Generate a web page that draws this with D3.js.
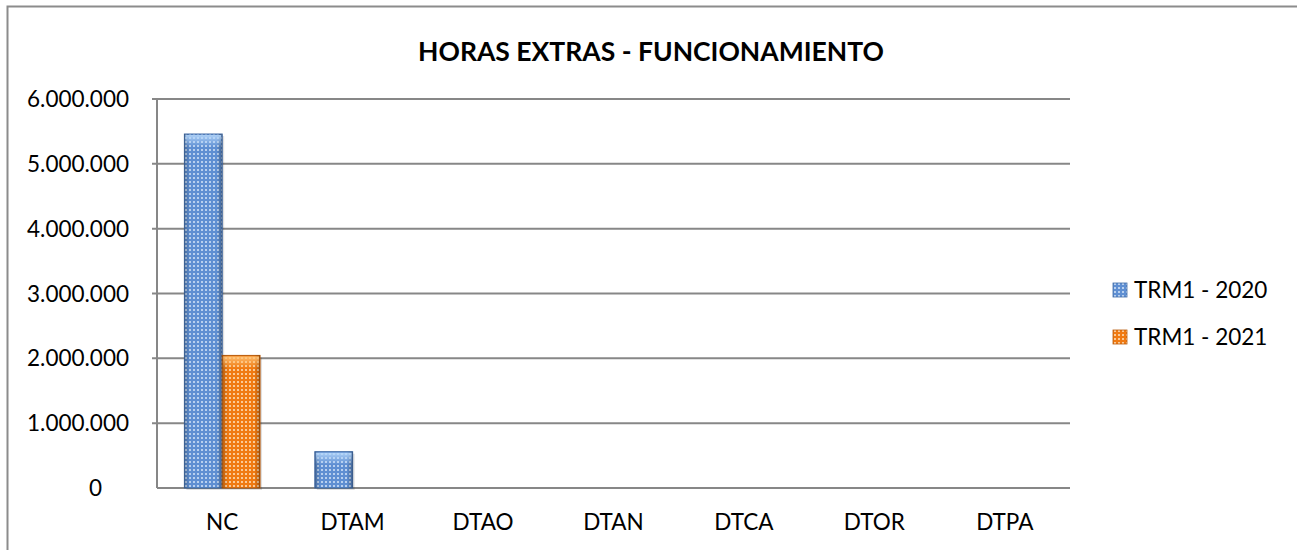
<!DOCTYPE html>
<html>
<head>
<meta charset="utf-8">
<script src="https://cdn.jsdelivr.net/npm/d3@7"></script>
<style>
  body { margin: 0; background: #fff; }
  svg { display: block; font-family: Lato, "Open Sans", sans-serif; }
  .tick-label { font-size: 22.5px; fill: #000; }
  .title { font-size: 26.5px; font-weight: bold; fill: #000; }
</style>
</head>
<body>
<svg id="chart"></svg>
<script>
const categories = ['NC', 'DTAM', 'DTAO', 'DTAN', 'DTCA', 'DTOR', 'DTPA'];
const seriesNames = ['TRM1 - 2020', 'TRM1 - 2021'];
const values2020 = [5460000, 560000, 0, 0, 0, 0, 0];
const values2021 = [2045000, 0, 0, 0, 0, 0, 0];
const yTicks = [0, 1000000, 2000000, 3000000, 4000000, 5000000, 6000000];

const width = 1297;
const height = 550;
const plotLeft = 157;
const plotRight = 1070;
const plotTop = 99;
const plotBottom = 488;

const colors = [
  { base: '#5f8fd2', dot: '#c8dcf5', edge: '#3f6aa6', light: '#b4d6fa' },
  { base: '#f07a12', dot: '#fdd8ae', edge: '#b85a0a', light: '#ffc274' },
];

const svg = d3.select('#chart')
  .attr('width', width)
  .attr('height', height);

const defs = svg.append('defs');

colors.forEach((c, i) => {
  const p = defs.append('pattern')
    .attr('id', `dots${i}`)
    .attr('patternUnits', 'userSpaceOnUse')
    .attr('width', 4)
    .attr('height', 4);
  p.append('rect').attr('width', 4).attr('height', 4).attr('fill', c.base);
  p.append('rect').attr('x', 1).attr('y', 1).attr('width', 2).attr('height', 2)
    .attr('fill', c.dot).attr('opacity', 0.85);

  // cylinder-ish shading across the bar
  const g = defs.append('linearGradient')
    .attr('id', `shade${i}`)
    .attr('x1', 0).attr('x2', 1).attr('y1', 0).attr('y2', 0);
  g.append('stop').attr('offset', '0%').attr('stop-color', '#000').attr('stop-opacity', 0.25);
  g.append('stop').attr('offset', '15%').attr('stop-color', '#000').attr('stop-opacity', 0.0);
  g.append('stop').attr('offset', '85%').attr('stop-color', '#000').attr('stop-opacity', 0.0);
  g.append('stop').attr('offset', '100%').attr('stop-color', '#000').attr('stop-opacity', 0.3);

  const t = defs.append('linearGradient')
    .attr('id', `topglow${i}`)
    .attr('x1', 0).attr('x2', 0).attr('y1', 0).attr('y2', 1);
  t.append('stop').attr('offset', '0%').attr('stop-color', c.light).attr('stop-opacity', 0.9);
  t.append('stop').attr('offset', '100%').attr('stop-color', c.light).attr('stop-opacity', 0);
});

// outer frame
svg.append('rect')
  .attr('x', 7.5).attr('y', 6.5)
  .attr('width', 1300).attr('height', 560)
  .attr('fill', 'none')
  .attr('stroke', '#8c8c8c')
  .attr('stroke-width', 2);

svg.append('text')
  .attr('class', 'title')
  .attr('x', 651)
  .attr('y', 61)
  .attr('text-anchor', 'middle')
  .text('HORAS EXTRAS - FUNCIONAMIENTO');

const x = d3.scaleBand()
  .domain(categories)
  .range([plotLeft, plotRight])
  .paddingInner(0.42)
  .paddingOuter(0.21);

const xSeries = d3.scaleBand()
  .domain(seriesNames)
  .range([0, x.bandwidth()]);

const y = d3.scaleLinear()
  .domain([0, 6000000])
  .range([plotBottom, plotTop]);

const fmt = d => d3.format(',')(d).replace(/,/g, '.');

// gridlines
svg.append('g')
  .selectAll('line')
  .data(yTicks)
  .enter().append('line')
  .attr('x1', d => d === 0 ? plotLeft : plotLeft - 5)
  .attr('x2', plotRight)
  .attr('y1', d => y(d))
  .attr('y2', d => y(d))
  .attr('stroke', '#878787')
  .attr('stroke-width', 2);

// left axis line
svg.append('line')
  .attr('x1', plotLeft).attr('x2', plotLeft)
  .attr('y1', plotTop).attr('y2', plotBottom)
  .attr('stroke', '#878787')
  .attr('stroke-width', 2);

svg.append('g')
  .selectAll('text')
  .data(yTicks)
  .enter().append('text')
  .attr('class', 'tick-label')
  .attr('x', d => d === 0 ? 102 : 129)
  .attr('y', d => y(d) + 8)
  .attr('text-anchor', 'end')
  .text(fmt);

const series = [values2020, values2021];

const bars = svg.append('g');
series.forEach((vals, si) => {
  const data = vals.map((v, i) => ({ cat: categories[i], v }))
    .filter(d => d.v > 0);
  const xs = d => x(d.cat) + xSeries(seriesNames[si]);
  const bw = xSeries.bandwidth();

  const g = bars.append('g');
  g.selectAll('.shadow')
    .data(data)
    .enter().append('rect')
    .attr('x', d => xs(d) + 2)
    .attr('y', d => y(d.v) + 2)
    .attr('width', bw)
    .attr('height', d => plotBottom - y(d.v))
    .attr('fill', '#000')
    .attr('opacity', 0.12);
  g.selectAll('.bar')
    .data(data)
    .enter().append('rect')
    .attr('x', xs)
    .attr('y', d => y(d.v))
    .attr('width', bw)
    .attr('height', d => plotBottom - y(d.v))
    .attr('fill', `url(#dots${si})`)
    .attr('stroke', colors[si].edge)
    .attr('stroke-width', 1);
  g.selectAll('.shade')
    .data(data)
    .enter().append('rect')
    .attr('x', xs)
    .attr('y', d => y(d.v))
    .attr('width', bw)
    .attr('height', d => plotBottom - y(d.v))
    .attr('fill', `url(#shade${si})`);
  g.selectAll('.glow')
    .data(data)
    .enter().append('rect')
    .attr('x', d => xs(d) + 1)
    .attr('y', d => y(d.v) + 1)
    .attr('width', bw - 2)
    .attr('height', d => Math.min(12, plotBottom - y(d.v)))
    .attr('fill', `url(#topglow${si})`);
});

// category labels
svg.append('g')
  .selectAll('text')
  .data(categories)
  .enter().append('text')
  .attr('class', 'tick-label')
  .attr('x', d => x(d) + x.bandwidth() / 2)
  .attr('y', 530)
  .attr('text-anchor', 'middle')
  .text(d => d);

// legend
const legend = svg.append('g');
const legendY = d3.scalePoint().domain(seriesNames).range([290, 337]);
const item = legend.selectAll('g')
  .data(seriesNames)
  .enter().append('g')
  .attr('transform', d => `translate(1113,${legendY(d)})`);
item.append('rect')
  .attr('x', 0).attr('y', -7)
  .attr('width', 14).attr('height', 14)
  .attr('fill', (d, i) => `url(#dots${i})`)
  .attr('stroke', (d, i) => colors[i].edge)
  .attr('stroke-width', 0.8);
item.append('text')
  .attr('class', 'tick-label')
  .attr('x', 21)
  .attr('y', 8)
  .text(d => d);
</script>
</body>
</html>
